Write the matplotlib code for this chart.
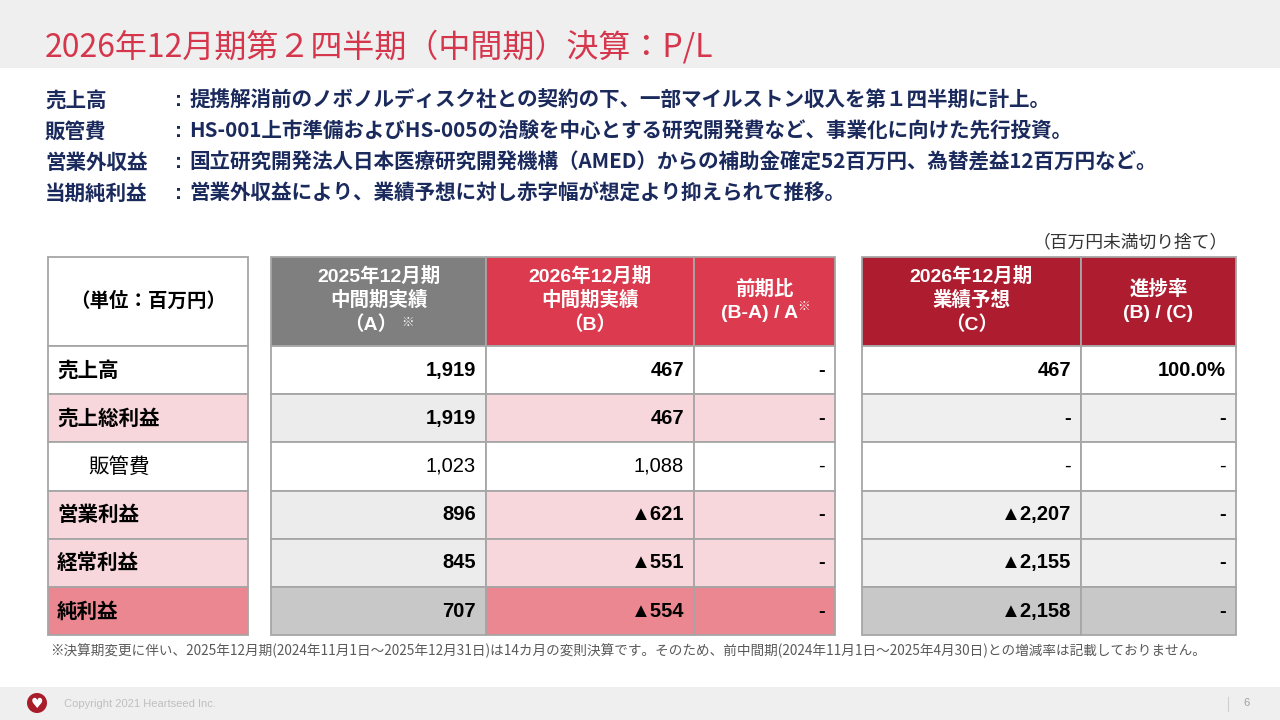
import matplotlib
matplotlib.use('Agg')
import matplotlib.pyplot as plt
from matplotlib.patches import Rectangle, Circle

plt.rcParams['font.family'] = ['Noto Sans CJK JP', 'DejaVu Sans']

# ── data ─────────────────────────────────────────────────────────
row_labels = ['売上高', '売上総利益', '販管費', '営業利益', '経常利益', '純利益']
row_kind = ['plain', 'sub', 'plain', 'sub', 'sub', 'total']
row_bold = [True, True, False, True, True, True]
prev_h1 = [1919, 1919, 1023, 896, 845, 707]          # (A)
cur_h1 = [467, 467, 1088, -621, -551, -554]          # (B)
yoy = [None, None, None, None, None, None]           # (B-A)/A
forecast = [467, None, None, -2207, -2155, -2158]    # (C)
progress = [100.0, None, None, None, None, None]     # (B)/(C)

bullets = ['売上高', '販管費', '営業外収益', '当期純利益']
bullet_texts = [
    '提携解消前のノボノルディスク社との契約の下、一部マイルストン収入を第１四半期に計上。',
    'HS-001上市準備およびHS-005の治験を中心とする研究開発費など、事業化に向けた先行投資。',
    '国立研究開発法人日本医療研究開発機構（AMED）からの補助金確定52百万円、為替差益12百万円など。',
    '営業外収益により、業績予想に対し赤字幅が想定より抑えられて推移。',
]

title = '2026年12月期第２四半期（中間期）決算：P/L'
footnote = ('※決算期変更に伴い、2025年12月期(2024年11月1日～2025年12月31日)は14カ月の変則決算です。'
            'そのため、前中間期(2024年11月1日～2025年4月30日)との増減率は記載しておりません。')


def fmt_num(v):
    if v is None:
        return '-'
    if v < 0:
        return '▲{:,}'.format(-v)
    return '{:,}'.format(v)


def fmt_pct(v):
    return '-' if v is None else '{:.1f}%'.format(v)


# ── colours ──────────────────────────────────────────────────────
RED_TITLE = '#d6364c'
NAVY = '#1b2a5c'
HDR_GRAY = '#7f7f7f'
HDR_RED = '#dc3a4e'
HDR_DARK = '#ae1c2f'
LINE = '#a6a6a6'
bg_label = {'plain': 'white', 'sub': '#f8d7dc', 'total': '#ea8790'}
bg_gray = {'plain': 'white', 'sub': '#ececec', 'total': '#c8c8c8'}
bg_right = {'plain': 'white', 'sub': '#efefef', 'total': '#c8c8c8'}

NUM_FONT = ['Liberation Sans', 'Noto Sans CJK JP', 'DejaVu Sans']

fig = plt.figure(figsize=(12.8, 7.2), dpi=100, facecolor='white')
ax = fig.add_axes([0, 0, 1, 1])
ax.set_xlim(0, 1280)
ax.set_ylim(720, 0)
ax.axis('off')

# ── top band and title ───────────────────────────────────────────
ax.add_patch(Rectangle((0, 0), 1280, 68, color='#efefef', lw=0))
ax.text(45, 47, title, fontsize=23, color=RED_TITLE, va='center', ha='left')

# ── bullet description ───────────────────────────────────────────
for i, (lab, txt) in enumerate(zip(bullets, bullet_texts)):
    yb = 107 + i * 31
    ax.text(45, yb, lab, fontsize=14.8, fontweight='bold', color=NAVY, va='baseline')
    ax.text(175, yb - 1, ':', fontsize=15, fontweight='bold', color=NAVY, va='baseline',
            family=NUM_FONT)
    ax.text(189, yb, txt, fontsize=14.8, fontweight='bold', color=NAVY, va='baseline')

ax.text(1228, 242, '（百万円未満切り捨て）', fontsize=12.8, color='#333333',
        ha='right', va='center')

# ── table geometry ───────────────────────────────────────────────
hdr_top, hdr_bot = 257, 346
row_h = 48.2
lab_x = (48, 248)
mid_x = [271, 486, 694, 835]
right_x = [862, 1081, 1236]


def cell(x0, x1, y0, y1, fc):
    ax.add_patch(Rectangle((x0, y0), x1 - x0, y1 - y0, facecolor=fc,
                           edgecolor=LINE, lw=1.3))


# header cells
cell(lab_x[0], lab_x[1], hdr_top, hdr_bot, 'white')
ax.text(sum(lab_x) / 2, 301, '（単位：百万円）', fontsize=14, fontweight='bold',
        ha='center', va='center', color='black')

hdr_cols = [HDR_GRAY, HDR_RED, HDR_RED]
for j, fc in enumerate(hdr_cols):
    cell(mid_x[j], mid_x[j + 1], hdr_top, hdr_bot, fc)
for j in range(2):
    cell(right_x[j], right_x[j + 1], hdr_top, hdr_bot, HDR_DARK)

hkw = dict(fontsize=14, fontweight='bold', color='white', ha='center',
           va='center', family=NUM_FONT)
cxA = (mid_x[0] + mid_x[1]) / 2
cxB = (mid_x[1] + mid_x[2]) / 2
cxR = (mid_x[2] + mid_x[3]) / 2
cxC = (right_x[0] + right_x[1]) / 2
cxP = (right_x[1] + right_x[2]) / 2
for k, line in enumerate(['2025年12月期', '中間期実績', '（A）']):
    ax.text(cxA - (8 if k == 2 else 0), 276 + k * 24.5, line, **hkw)
ax.text(cxA + 29, 323, '※', fontsize=9, color='white', ha='center', va='center')
for k, line in enumerate(['2026年12月期', '中間期実績', '（B）']):
    ax.text(cxB, 276 + k * 24.5, line, **hkw)
ax.text(cxR, 289, '前期比', **hkw)
ax.text(cxR - 5, 313, '(B-A) / A', **hkw)
ax.text(cxR + 39, 307, '※', fontsize=9, color='white', ha='center', va='center')
for k, line in enumerate(['2026年12月期', '業績予想', '（C）']):
    ax.text(cxC, 276 + k * 24.5, line, **hkw)
ax.text(cxP, 289, '進捗率', **hkw)
ax.text(cxP, 313, '(B) / (C)', **hkw)

# body rows
for i, lab in enumerate(row_labels):
    y0 = hdr_bot + i * row_h
    y1 = y0 + row_h
    yc = (y0 + y1) / 2
    kind = row_kind[i]
    fw = 'bold' if row_bold[i] else 'normal'

    cell(lab_x[0], lab_x[1], y0, y1, bg_label[kind])
    ax.text(57 if row_bold[i] else 88, yc, lab, fontsize=14.8, fontweight=fw,
            ha='left', va='center', color='black')

    mid_vals = [fmt_num(prev_h1[i]), fmt_num(cur_h1[i]), fmt_num(yoy[i])]
    mid_bg = [bg_gray[kind], bg_label[kind], bg_label[kind]]
    for j in range(3):
        cell(mid_x[j], mid_x[j + 1], y0, y1, mid_bg[j])
        ax.text(mid_x[j + 1] - 10, yc, mid_vals[j], fontsize=14.5, fontweight=fw,
                ha='right', va='center', color='black', family=NUM_FONT)

    right_vals = [fmt_num(forecast[i]), fmt_pct(progress[i])]
    for j in range(2):
        cell(right_x[j], right_x[j + 1], y0, y1, bg_right[kind])
        ax.text(right_x[j + 1] - 10, yc, right_vals[j], fontsize=14.5, fontweight=fw,
                ha='right', va='center', color='black', family=NUM_FONT)

# ── footnote ─────────────────────────────────────────────────────
ax.text(50, 651, footnote, fontsize=9.8, color='#595959', ha='left', va='center')

# ── footer ───────────────────────────────────────────────────────
ax.add_patch(Rectangle((0, 687), 1280, 33, color='#efefef', lw=0))
ax.add_patch(Circle((37, 703), 10, color='#a71d2a', lw=0))
ax.text(37, 703.5, '♥', fontsize=10, color='white', ha='center', va='center',
        family=['DejaVu Sans'])
ax.text(64, 704, 'Copyright 2021 Heartseed Inc.', fontsize=8, color='#bfbfbf',
        ha='left', va='center', family=NUM_FONT)
ax.plot([1228, 1228], [697, 711], color='#cfcfcf', lw=0.8)
ax.text(1247, 703, '6', fontsize=8, color='#a0a0a0', ha='center', va='center',
        family=NUM_FONT)

fig.savefig('out.png', dpi=100, facecolor='white')
plt.close(fig)
